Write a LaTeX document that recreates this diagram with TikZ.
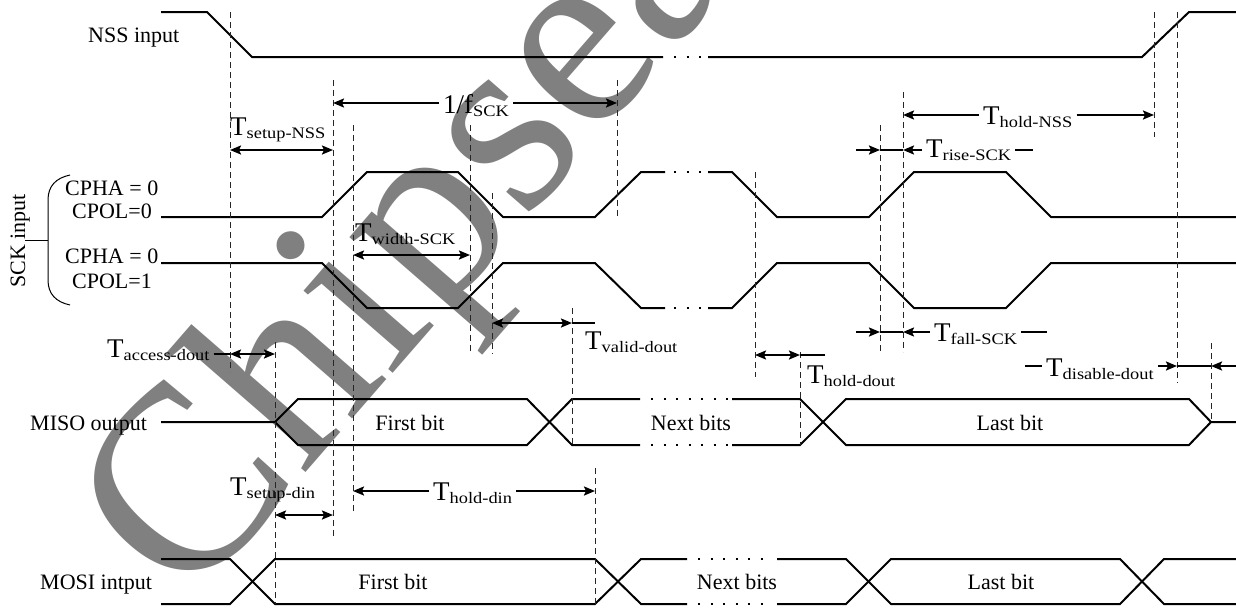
\documentclass[tikz,border=0pt]{standalone}
\usepackage{fontspec}
\setmainfont{Liberation Serif}
\usetikzlibrary{arrows.meta}
\newcommand{\TT}[2]{{\fontsize{27}{27}\selectfont #1}\raisebox{-3pt}{\scalebox{1.15}[1]{\fontsize{16}{16}\selectfont #2}}}
\tikzset{
  sig/.style={line width=2pt},
  dim/.style={line width=2pt},
  arr/.style={dim,-{Stealth[length=11pt,width=9pt,inset=2pt]}},
  arrr/.style={dim,{Stealth[length=11pt,width=9pt,inset=2pt]}-{Stealth[length=11pt,width=9pt,inset=2pt]}},
  dsh/.style={line width=1pt,black!85,dash pattern=on 6pt off 4pt},
  dots/.style={line width=2pt,dash pattern=on 2pt off 10.5pt},
  lbl/.style={inner sep=0pt,anchor=base west,font=\fontsize{22}{22}\selectfont},
  dat/.style={inner sep=0pt,anchor=base,font=\fontsize{22}{22}\selectfont},
  tl/.style={inner xsep=4pt,inner ysep=0pt,anchor=base west},
  wm/.style={inner sep=0pt,anchor=base west,rotate=49,text=black!50,font=\fontsize{264}{264}\selectfont}
}
\begin{document}
\begin{tikzpicture}[x=1pt,y=-1pt]
\useasboundingbox (0,0) rectangle (1236,608);
\fill[white] (0,0) rectangle (1236,608);
% watermark
\begin{scope}
\clip (0,0) rectangle (1236,608);
\node[wm] (wmark) at (187,610) {Chipsea};
\end{scope}

% ---- signal labels
\node[lbl] (nss) at (88,42) {NSS input};
\node[lbl] (cpha1) at (65,195) {CPHA = 0};
\node[lbl] (cpol0) at (72,218) {CPOL=0};
\node[lbl] (cpha2) at (65,263) {CPHA = 0};
\node[lbl] (cpol1) at (72,288) {CPOL=1};
\node[lbl,rotate=90] (sck) at (25,288) {SCK input};
\node[lbl] (miso) at (30,430) {MISO output};
\node[lbl] (mosi) at (40,589) {MOSI intput};

% brace
\draw[line width=1pt] (70,175) .. controls (56,178) and (48,186) .. (48,200) -- (48,280) .. controls (48,294) and (56,302) .. (70,305);
\coordinate (bm) at (48,240);
\coordinate (bt) at (25,240);
\draw[line width=1pt] (bt) -- (bm);

% ---- NSS
\draw[sig] (161,12) -- (207,12) -- (252,57) -- (663,57);
\draw[dots] (674,57) -- (703,57);
\draw[sig] (708,57) -- (1142,57) -- (1189,12) -- (1236,12);

% ---- SCK CPOL=0
\draw[sig] (161,217) -- (322,217) -- (367,172) -- (458,172) -- (503,217) -- (595,217) -- (641,172) -- (665,172);
\draw[dots] (674,172) -- (703,172);
\draw[sig] (708,172) -- (732,172) -- (777,217) -- (869,217) -- (914,172) -- (1006,172) -- (1051,217) -- (1236,217);
% ---- SCK CPOL=1
\draw[sig] (161,263) -- (322,263) -- (367,308) -- (458,308) -- (503,263) -- (595,263) -- (641,308) -- (665,308);
\draw[dots] (674,308) -- (703,308);
\draw[sig] (708,308) -- (732,308) -- (777,263) -- (869,263) -- (914,308) -- (1006,308) -- (1051,263) -- (1236,263);

% ---- MISO
\draw[sig] (161,422) -- (275,422) -- (298,399) -- (527,399) -- (572,445) -- (640,445);
\draw[sig] (275,422) -- (298,445) -- (527,445) -- (572,399) -- (640,399);
\draw[dots] (651,399) -- (729,399);
\draw[dots] (651,445) -- (729,445);
\draw[sig] (732,399) -- (800,399) -- (846,445) -- (1189,445) -- (1211,422) -- (1236,422);
\draw[sig] (732,445) -- (800,445) -- (846,399) -- (1189,399) -- (1211,422);
\node[dat] (m1) at (410,430) {First bit};
\node[dat] (m2) at (691,430) {Next bits};
\node[dat] (m3) at (1010,430) {Last bit};

% ---- MOSI
\draw[sig] (161,559) -- (230,559) -- (275,604) -- (595,604) -- (641,559) -- (687,559);
\draw[sig] (161,604) -- (230,604) -- (275,559) -- (595,559) -- (641,604) -- (687,604);
\draw[dots] (698,559) -- (772,559);
\draw[dots] (698,604) -- (772,604);
\draw[sig] (777,559) -- (846,559) -- (891,604) -- (1120,604) -- (1164,559) -- (1236,559);
\draw[sig] (777,604) -- (846,604) -- (891,559) -- (1120,559) -- (1164,604) -- (1236,604);
\node[dat] (o1) at (393,589) {First bit};
\node[dat] (o2) at (737,589) {Next bits};
\node[dat] (o3) at (1001,589) {Last bit};

% ---- dashed guides
\foreach \x/\ya/\yb in {230/12/372, 333/80/537, 353/125/512, 470/125/353, 492/193/354,
  572/308/445, 595/468/604, 617/80/217, 755/172/377, 800/352/445, 880/125/352,
  903/92/352, 1154/12/137, 1177/12/383, 1211/343/422, 275/342/604}
  \draw[dsh] (\x,\ya) -- (\x,\yb);

% ---- timing labels
\node[tl] (setupNSS) at (226,135) {\TT{T}{setup-NSS}};
\node[tl] (fsck) at (439,113) {\TT{1/f}{SCK}};
\node[tl] (widthSCK) at (351,241) {\TT{T}{width-SCK}};
\node[tl] (validdout) at (581,349) {\TT{T}{valid-dout}};
\node[tl] (holddout) at (803,383) {\TT{T}{hold-dout}};
\node[tl] (riseSCK) at (922,157) {\TT{T}{rise-SCK}};
\node[tl] (fallSCK) at (930,341) {\TT{T}{fall-SCK}};
\node[tl] (holdNSS) at (979,124) {\TT{T}{hold-NSS}};
\node[tl] (disable) at (1042,376) {\TT{T}{disable-dout}};
\node[tl] (access) at (103,357) {\TT{T}{access-dout}};
\node[tl] (setupdin) at (226,495) {\TT{T}{setup-din}};
\node[tl] (holddin) at (429,500) {\TT{T}{hold-din}};

% 1/fSCK
\coordinate (f1) at (333,103); \coordinate (f2) at (617,103);
\draw[arr] (fsck.west |- f1) -- (f1);
\draw[arr] (fsck.east |- f2) -- (f2);
% Tsetup-NSS
\coordinate (s1) at (230,150); \coordinate (s2) at (333,150);
\draw[arrr] (s1) -- (s2);
% Twidth-SCK
\coordinate (w1) at (353,255); \coordinate (w2) at (470,255);
\draw[arrr] (w1) -- (w2);
% Tvalid-dout
\coordinate (v1) at (492,323); \coordinate (v2) at (572,323); \coordinate (v3) at (595,323);
\draw[arrr] (v1) -- (v2); \draw[dim] (v2) -- (v3);
% Thold-dout
\coordinate (hd0) at (755,355); \coordinate (hd1) at (800,355); \coordinate (hd2) at (825,355);
\draw[arrr] (hd0) -- (hd1); \draw[dim] (hd1) -- (hd2);
% Trise-SCK
\coordinate (r0) at (856,150); \coordinate (r1) at (880,150); \coordinate (r2) at (903,150); \coordinate (r3) at (1033,150);
\draw[arr] (r0) -- (r1); \draw[dim] (r1) -- (r2);
\draw[arr] (riseSCK.west |- r2) -- (r2);
\draw[dim] (riseSCK.east |- r3) -- (r3);
% Tfall-SCK
\coordinate (q0) at (856,332); \coordinate (q1) at (880,332); \coordinate (q2) at (903,332); \coordinate (q3) at (1047,332);
\draw[arr] (q0) -- (q1); \draw[dim] (q1) -- (q2);
\draw[arr] (fallSCK.west |- q2) -- (q2);
\draw[dim] (fallSCK.east |- q3) -- (q3);
% Thold-NSS
\coordinate (n1) at (903,115); \coordinate (n2) at (1154,115);
\draw[arr] (holdNSS.west |- n1) -- (n1);
\draw[arr] (holdNSS.east |- n2) -- (n2);
% Tdisable-dout
\coordinate (d0) at (1025,366); \coordinate (d1) at (1177,366); \coordinate (d2) at (1211,366); \coordinate (d3) at (1236,366);
\draw[dim] (d0) -- (disable.west |- d0);
\draw[arr] (disable.east |- d1) -- (d1);
\draw[dim] (d1) -- (d2);
\draw[arr] (d3) -- (d2);
% Taccess-dout
\coordinate (a1) at (230,354); \coordinate (a2) at (275,354);
\draw[dim] (access.east |- a1) -- (a1);
\draw[arrr] (a1) -- (a2);
% Tsetup-din
\coordinate (sd1) at (275,515); \coordinate (sd2) at (333,515);
\draw[arrr] (sd1) -- (sd2);
% Thold-din
\coordinate (hn1) at (353,491); \coordinate (hn2) at (595,491);
\draw[arr] (holddin.west |- hn1) -- (hn1);
\draw[arr] (holddin.east |- hn2) -- (hn2);
\end{tikzpicture}
\end{document}
